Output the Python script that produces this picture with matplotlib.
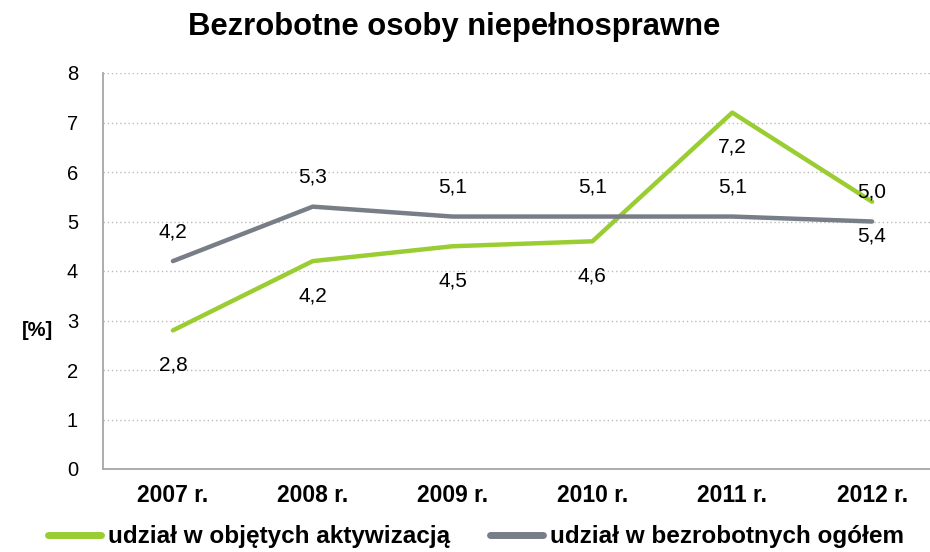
import matplotlib.pyplot as plt

plt.rcParams['font.family'] = ['Liberation Sans', 'DejaVu Sans']

years = ['2007 r.', '2008 r.', '2009 r.', '2010 r.', '2011 r.', '2012 r.']
aktywizacja = [2.8, 4.2, 4.5, 4.6, 7.2, 5.4]
ogolem = [4.2, 5.3, 5.1, 5.1, 5.1, 5.0]
# podpisy w oryginale (przy 2012 zamienione jak w źródle)
lab_akt = ['2,8', '4,2', '4,5', '4,6', '7,2', '5,4']
lab_og = ['4,2', '5,3', '5,1', '5,1', '5,1', '5,0']

green = '#9ACD32'
grey = '#787E87'

fig = plt.figure(figsize=(9.3, 5.52), dpi=100)
ax = fig.add_axes([103/930, 1 - 469/552, (942 - 103)/930, (469 - 73)/552])

x = range(len(years))
ax.plot(x, aktywizacja, color=green, lw=3.2, solid_capstyle='round', label='udział w objętych aktywizacją')
ax.plot(x, ogolem, color=grey, lw=3.2, solid_capstyle='round', label='udział w bezrobotnych ogółem')

for i in x:
    ax.annotate(lab_og[i], (i, ogolem[i]), xytext=(0, 21), textcoords='offset points',
                ha='center', va='center', fontsize=15)
    ax.annotate(lab_akt[i], (i, aktywizacja[i]), xytext=(0, -25), textcoords='offset points',
                ha='center', va='center', fontsize=15)

ax.set_xlim(-0.5, 5.5)
ax.set_ylim(0, 8)
ax.set_yticks(range(9))
ax.set_xticks(list(x))
ax.set_xticklabels(years, fontweight='bold', fontsize=16.5)
ax.tick_params(axis='y', labelsize=14.5, length=0, pad=18)
ax.tick_params(axis='x', length=0, pad=11)
ax.yaxis.grid(True, linestyle=(0, (1, 2)), color='#bbbbbb', lw=1)
ax.set_axisbelow(True)
for s in ['top', 'right']:
    ax.spines[s].set_visible(False)
ax.spines['left'].set_color('#a6a6a6')
ax.spines['bottom'].set_color('#a6a6a6')
ax.spines['left'].set_linewidth(1.3)
ax.spines['bottom'].set_linewidth(1.3)

fig.text(22/930, 1 - 330/552, '[%]', fontsize=14.5, fontweight='bold', va='center')
fig.text(454/930, 1 - 27/552, 'Bezrobotne osoby niepełnosprawne', fontsize=22.3,
         fontweight='bold', ha='center', va='center')

leg = fig.legend(loc='center', bbox_to_anchor=(476/930, 1 - 537/552), ncol=2, frameon=False,
                 prop={'weight': 'bold', 'size': 17.5}, handlelength=2.2,
                 handletextpad=0.3, columnspacing=1.6)
for ln in leg.get_lines():
    ln.set_linewidth(5)
    ln.set_solid_capstyle('round')

fig.savefig('out.png', dpi=100)
